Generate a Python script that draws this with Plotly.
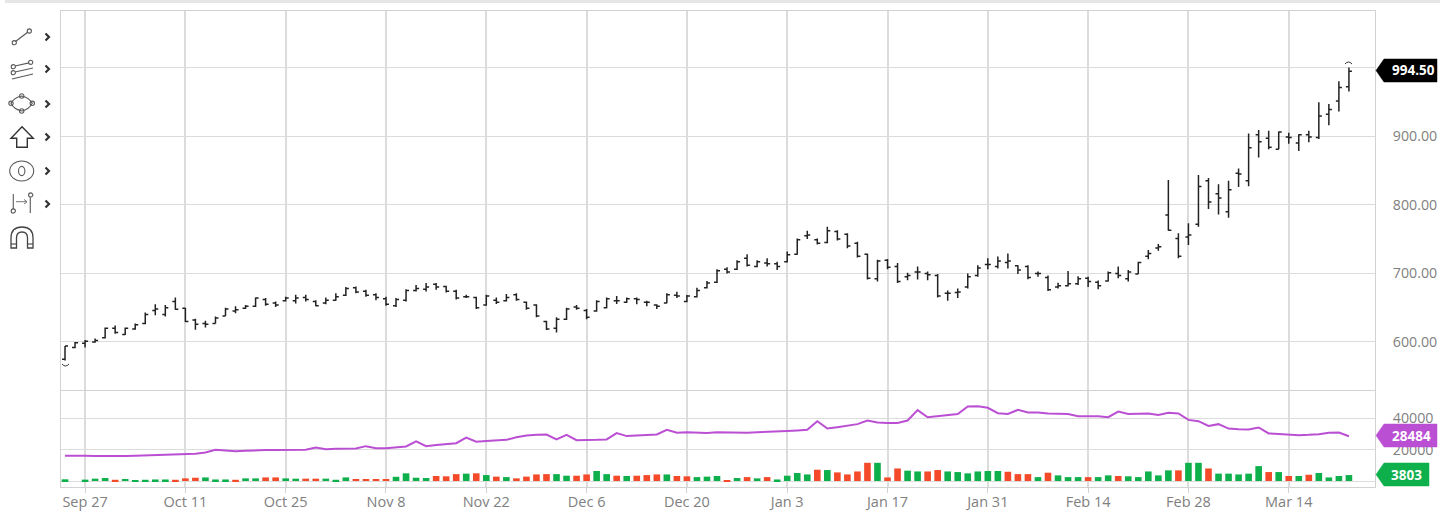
import plotly.graph_objects as go

tick_labels = ["Sep 27","Oct 11","Oct 25","Nov 8","Nov 22","Dec 6","Dec 20","Jan 3","Jan 17","Jan 31","Feb 14","Feb 28","Mar 14"]
tick_bars = [2,12,22,32,42,52,62,72,82,92,102,112,122]

opens = [575,592,598,600,606,620,611,619,627,646,640,659,649,632,627,627,638,645,649,652,662,657,660,660,665,659,657,661,668,679,674,669,663,653,
 661,675,677,684,681,674,666,665,654,661,660,669,658,654,630,620,633,651,646,645,650,660,658,663,658,654,657,668,659,666,679,687,706,706,722,710,
 715,714,717,728,755,749,745,761,757,744,728,692,719,710,695,702,700,697,671,672,680,697,713,710,716,711,710,700,694,680,682,685,693,687,689,700,692,699,725,737,
 785,751,753,771.5,835,816,790,846,835,902,897,881,899,890,902,898,932,951.4,972]
highs = [594,600,603,605,621,624,621,627,643,655,654,665,650,634,631,637,650,652,654,665,664,659,666,669,669,661,665,671,680,681,676,671,666,664,
 677,683,686,686,682,676,669,666,669,665,670,671,659,655,631,636,650,654,648,661,665,667,665,665,660,655,671,673.4,668.5,679,689,706,709,719,728,719,
 722,717,732,751,762,751,768,763,758.5,746,729,720,721,715,701,710,702.6,699,675,678,700,712,722,724.5,729,712,712,702.6,697,686.5,703.5,696,695,689.5,702.6,710,705,717,734,743,
 836,758.4,773,843.5,839,830,835,853,904,909,908,907,905,903,908,949.4,947,980,1000]
lows = [573,591,592,599,605,612,610,618,626,639,637,647,629,618,621,627,638,642,648,651,653,651,659,656,659,652,655,660,667,671,666,661,653,651,
 659,673.5,673.5,676,672,662,664,648,653,655.4,659,660,647,636,617.5,614,632,647,633,644,649,655.4,657,655,652,648,656.4,664,658,665,678,686,700,705,710,709,
 710,705,716,727,750,742,744,748,736.6,723,691,688,706,686,690,691,690,665,660,664,678,695,706,707,707,699,691.4,695,674.4,678,681,683,680,677,688,693,688,699,720.5,733,
 762,722,741.4,768,794,786,781,826,827,869,881,881,889,878.5,891,896,916,936,965]
closes = [594,599,601,602,620,614,620,625,640,648,650,647.6,630,626,626,635,648,647,652,664,655,654,664,664,662,653,661,666,678,673,668,665,655,662,
 675,678,680,680,674,664,666,650,667,658,665,662,649,638,619,633,648,649,636,659,663,660,663,662,658,652,669,667,667,675,686,704,702,717,712,717,
 714,710,727,749,756,744,762,750,740,725,693,718,709,688,697,702,698,667,671,673,695,708,713,718,718,705,694,700,676,682,685,692,688,682,701,697,702,716,729,739,
 763,725,756,826.5,804,810,822,845,883.3,892,884,906,898,902,899,929.5,939,971,994.5]

volume = [1100,0,900,1500,1900,800,1300,400,800,1000,1000,800,1700,2100,2300,1000,1000,800,1700,1700,2300,2300,1700,1500,1500,1500,1500,800,2300,1300,1300,1300,1300,2700,
 4900,2100,1900,3200,3000,4400,4700,4900,3800,2800,2500,1700,2800,4200,4400,4400,3400,3400,4200,6400,4400,3400,3200,3400,3800,4200,4200,3200,3000,2500,2800,3200,400,1900,2500,1700,2500,1000,3400,5100,
 4200,7200,7000,5500,4200,6100,11600,11600,2300,8000,6600,6100,6100,7000,6100,5700,4900,6100,6400,6400,5900,4400,4400,2500,5300,3600,2500,2500,2500,2500,3600,3200,3000,2500,6100,3600,6800,6800,11600,11600,
 8000,4700,4700,4200,4700,9500,5700,5700,3200,3200,4000,5100,2300,3200,3803]
vol_direction = list("GGGGGRGGGGGRRRGGGRGGRRGGRRGGGRRRRG"
                     "GGGRRRGRGRGRRRRGGRRGGRGRRRGRRGGGRGRGRGGG"
                     "GRGRRRRGRRGGRRGGGGGGRRRGRGGGRGGRGGGGGRGG"
                     "RGGGGGRGRGRGGGG")
open_interest = [16100,16300,16100,15900,15800,15900,16000,16100,16300,16500,16500,16700,16900,17400,18200,19900,19500,19000,19300,19700,19700,19700,19800,19900,19900,21400,20300,20500,20500,20700,22200,20900,20900,21400,
 22000,25200,22200,22900,23500,24100,27700,25000,25400,25800,26200,27900,29000,29400,29600,26500,29400,26000,26000,26200,26500,30500,28600,28800,29400,29600,32600,30700,31100,30700,30500,31100,30900,30700,30700,31100,31500,31700,31900,32200,
 32600,38100,33400,34300,35300,36200,38500,37200,37000,37000,38500,45100,40600,41300,42100,42700,47400,47600,46600,43200,42700,45300,43600,43600,43000,42700,42700,41300,41100,41300,40600,44200,42700,42700,43000,42100,43400,43000,38900,38100,
 35100,36200,33400,33000,32800,34100,30300,30000,29400,29200,29400,29800,30700,30900,28484]

bars = list(range(len(closes)))
vol_colors = ["#0DB04B" if c == "G" else "#F44A2A" for c in vol_direction]

W, H = 1440, 511
GRID = "#dcdcdc"
TXT = "#808080"
def X(v): return v / W
def Y(v): return 1 - v / H
def P(x, y): return f"{X(x):.5f} {Y(y):.5f}"
def path(d, color="#5a5a5a", width=1.2, fill=None):
    s = dict(type="path", xref="paper", yref="paper", path=d, line=dict(color=color, width=width), layer="above")
    if fill: s["fillcolor"] = fill
    return s
def poly(pts, close=False):
    return "M" + " L".join(P(*p) for p in pts) + (" Z" if close else "")
def circ(cx, cy, rx, ry=None, color="#5a5a5a", width=1.1):
    ry = ry or rx
    return dict(type="circle", xref="paper", yref="paper", x0=X(cx-rx), x1=X(cx+rx), y0=Y(cy+ry), y1=Y(cy-ry),
                line=dict(color=color, width=width), layer="above")

shapes = [
    dict(type="rect", xref="paper", yref="paper", x0=X(5), x1=1, y0=Y(3), y1=1, fillcolor="#e6e6e6", line=dict(width=0), layer="below"),
    # icon 1
    path(poly([(15.5,41.5),(28,32)])), circ(14.3,42.7,2.1), circ(29.3,31,2.1),
    # icon 2
    path(poly([(15,66),(29,62.8)])), path(poly([(15,72),(33,68)])), path(poly([(12,79),(33,74)])),
    circ(13.3,66.7,2.1), circ(13.3,72.7,2.1), circ(30.7,62.3,2.1),
    # icon 3
    path("M"+P(21.7,96)+" Q"+P(29,97.5)+" "+P(32.3,103.3)+" Q"+P(29,109.5)+" "+P(21.7,111)+" Q"+P(14,109.5)+" "+P(11,103.3)+" Q"+P(14,97.5)+" "+P(21.7,96)+" Z"),
    circ(21.7,96,2.2), circ(11,103.3,2.2), circ(32.3,103.3,2.2), circ(21.7,111,2.2),
    # icon 4
    path(poly([(22,126.7),(33.3,138.3),(27.3,138.3),(27.3,147.3),(16.7,147.3),(16.7,138.3),(11,138.3)], True), color="#333", width=1.4),
    # icon 5
    circ(21.7,171,12,10), circ(21.7,171,3.2,4.6),
    # icon 6
    path(poly([(13.3,194),(13.3,209)]), color="#666"), circ(13.3,211,2.1),
    path(poly([(16,201.7),(27,201.7)]), color="#777", width=1), path(poly([(24,199.5),(27,201.7),(24,204)]), color="#777", width=1),
    path(poly([(30.3,197.5),(30.3,213)]), color="#666"), circ(30.7,195,2.1),
    # icon 7 magnet
    path("M"+P(11,248)+" L"+P(11,238)+" Q"+P(11,227)+" "+P(22,227)+" Q"+P(33,227)+" "+P(33,238)+" L"+P(33,248)+" L"+P(27.5,248)+" L"+P(27.5,238)+" Q"+P(27.5,232)+" "+P(22,232)+" Q"+P(16.5,232)+" "+P(16.5,238)+" L"+P(16.5,248)+" Z", color="#444", width=1.3),
    path(poly([(11,244),(16.5,244)]), color="#444", width=1.1), path(poly([(27.5,244),(33,244)]), color="#444", width=1.1),
    # high / low arcs
    path("M"+P(1345,64)+" Q"+P(1348.5,60)+" "+P(1352,64), color="#333", width=1),
    path("M"+P(62,364)+" Q"+P(65.5,368)+" "+P(69,364), color="#333", width=1),
    # tags
    path(poly([(1376,70.5),(1384,59),(1437,59),(1437,82),(1384,82)], True), color="#000", width=0.5, fill="#000"),
    path(poly([(1376,435.5),(1384,424),(1437,424),(1437,447),(1384,447)], True), color="#BB4FD3", width=0.5, fill="#BB4FD3"),
    path(poly([(1376,474.5),(1384,463),(1429,463),(1429,486),(1384,486)], True), color="#0DB04B", width=0.5, fill="#0DB04B"),
]
for cy in [37, 69, 104, 137, 171, 204]:
    shapes.append(path(poly([(45.5,cy-3.5),(49,cy),(45.5,cy+3.5)]), color="#333", width=2.2))

def tag(text, y, cx):
    return dict(text=f"<b>{text}</b>", xref="paper", yref="paper", x=X(cx), y=Y(y), showarrow=False,
                font=dict(family="Open Sans", size=13.5, color="white"), xanchor="center", yanchor="middle")
annotations = [tag("994.50",70.5,1413), tag("28484",435.5,1411), tag("3803",474.5,1406)]

x_range = [-0.4, 130.6]
fig = go.Figure()
fig.add_trace(go.Scatter(x=bars, y=open_interest, mode="lines", line=dict(color="#BB4FD3", width=2), xaxis="x", yaxis="y2", hoverinfo="skip"))
fig.add_trace(go.Bar(x=bars, y=volume, marker=dict(color=vol_colors, line=dict(width=0)), width=0.66, xaxis="x", yaxis="y2", hoverinfo="skip"))
fig.add_trace(go.Ohlc(x=bars, open=opens, high=highs, low=lows, close=closes, tickwidth=0.3,
                      increasing=dict(line=dict(color="#222", width=1.5)),
                      decreasing=dict(line=dict(color="#222", width=1.5)), xaxis="x2", yaxis="y", hoverinfo="skip"))
axis_common = dict(range=x_range, domain=[X(61), X(1375)], tickvals=tick_bars, showgrid=True, gridcolor=GRID, gridwidth=1.6,
                   zeroline=False, showline=True, linecolor="#d2d2d2", linewidth=1, mirror=True, automargin=False)
fig.update_layout(
    width=W, height=H, margin=dict(l=0, r=0, t=0, b=0, autoexpand=False), paper_bgcolor="white", plot_bgcolor="white",
    showlegend=False, barmode="overlay", font=dict(family="Open Sans", size=13, color=TXT),
    shapes=shapes, annotations=annotations,
    xaxis=dict(anchor="y2", ticktext=tick_labels, ticks="outside", ticklen=5, tickcolor="#d2d2d2", ticklabelstandoff=-3,
               tickfont=dict(family="Open Sans", size=14.5, color=TXT), **axis_common),
    xaxis2=dict(anchor="y", showticklabels=False, ticks="", rangeslider=dict(visible=False), **axis_common),
    yaxis=dict(domain=[Y(390), Y(11)], range=[530, 1082.5], side="right", anchor="x2", automargin=False,
               tickvals=[600,700,800,900,1000], ticktext=["600.00","700.00","800.00","900.00",""],
               gridcolor=GRID, gridwidth=1, zeroline=False, showline=True, linecolor="#d2d2d2", mirror=True,
               ticklabelstandoff=14, tickfont=dict(family="Open Sans", size=14.2, color=TXT)),
    yaxis2=dict(domain=[Y(487), Y(391)], range=[-3800, 57300], side="right", anchor="x", automargin=False,
                tickvals=[0,20000,40000], ticktext=["","20000","40000"],
                gridcolor=GRID, gridwidth=1, zeroline=False, showline=True, linecolor="#d2d2d2", mirror=True,
                ticklabelstandoff=14, tickfont=dict(family="Open Sans", size=14.2, color=TXT)),
)
fig.write_html("out.html", config=dict(displayModeBar=False), post_script="document.body.style.margin='0';")
